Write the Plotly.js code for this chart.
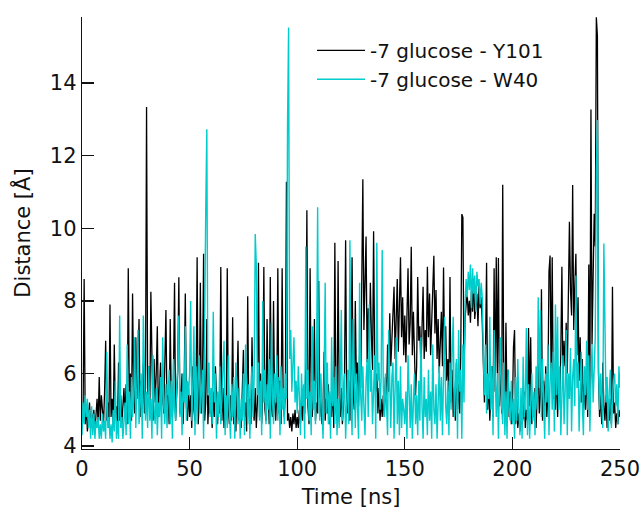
<!DOCTYPE html>
<html>
<head>
<meta charset="utf-8">
<script src="https://cdn.plot.ly/plotly-3.0.1.min.js"></script>
<style>html,body{margin:0;padding:0;background:#fff;}#chart{width:643px;height:515px;}</style>
</head>
<body>
<div id="chart"></div>
<script>
// Sampling step of the trajectories (ns)
const timeStep = 0.5;

// -7 glucose - Y101 distance (Å), one value every 0.5 ns, rows of 10 ns
const distY101 = [
  4.5, 4.9, 8.6, 4.6, 5.1, 4.4, 4.8, 5.2, 4.5, 4.9, 4.6, 5.0, 4.4, 4.8, 5.3, 4.6, 5.9, 4.7, 5.4, 5.0,
  4.6, 5.5, 6.9, 4.7, 5.2, 4.5, 7.9, 4.8, 5.3, 4.6, 6.8, 4.9, 5.1, 4.5, 6.3, 4.7, 5.4, 4.6, 5.0, 5.6,
  4.8, 5.7, 4.6, 8.9, 5.2, 6.0, 4.7, 8.2, 5.5, 4.9, 7.0, 5.3, 6.1, 7.5, 4.8, 5.8, 5.0, 6.3, 4.9, 5.6,
  13.34, 5.4, 6.2, 4.9, 8.25, 5.8, 4.7, 6.4, 5.2, 6.0, 7.3, 4.8, 5.9, 6.3, 5.1, 5.7, 4.9, 6.2, 7.75, 5.0,
  5.4, 4.6, 7.5, 5.2, 4.8, 5.9, 8.5, 4.7, 5.5, 6.1, 8.65, 4.9, 5.3, 6.0, 4.6, 5.8, 8.2, 5.1, 4.7, 5.6,
  4.8, 5.4, 4.5, 6.2, 5.0, 4.7, 5.6, 9.2, 4.6, 5.3, 8.5, 4.9, 5.8, 9.3, 4.7, 5.2, 7.5, 4.6, 5.4, 4.9,
  5.1, 4.5, 5.5, 4.8, 6.2, 5.0, 4.6, 5.3, 4.9, 8.93, 4.7, 5.6, 4.5, 5.2, 4.8, 8.9, 5.0, 4.6, 5.4, 4.7,
  7.55, 4.6, 5.1, 4.4, 5.4, 6.9, 4.7, 5.0, 4.5, 5.5, 6.65, 4.8, 5.2, 4.4, 8.13, 4.9, 5.3, 4.6, 7.0, 5.1,
  4.7, 5.6, 4.5, 5.2, 9.05, 4.8, 6.0, 4.6, 5.4, 8.93, 5.0, 4.7, 7.5, 5.5, 4.6, 8.66, 5.1, 4.8, 8.0, 5.3,
  4.7, 5.4, 8.9, 4.9, 5.8, 4.6, 8.9, 5.2, 4.8, 5.5, 11.28, 4.7, 4.9, 4.5, 4.8, 4.4, 4.9, 4.6, 5.0, 4.5,
  4.8, 4.5, 5.0, 4.6, 5.3, 4.7, 5.6, 4.9, 6.2, 10.5, 5.1, 4.6, 8.9, 5.3, 4.8, 5.5, 7.5, 4.7, 5.2, 4.9,
  8.55, 4.8, 5.4, 4.6, 5.0, 6.6, 4.7, 5.3, 4.9, 5.7, 4.6, 5.2, 4.8, 5.8, 4.5, 9.6, 5.0, 4.7, 9.1, 5.4,
  4.8, 5.6, 4.6, 5.1, 6.0, 9.67, 5.2, 4.9, 5.8, 4.7, 6.2, 9.2, 5.4, 5.0, 8.0, 5.7, 6.3, 5.1, 6.5, 5.6,
  9.9, 11.35, 7.2, 8.4, 9.77, 6.3, 7.8, 6.6, 8.5, 7.0, 6.1, 9.92, 6.4, 5.5, 6.0, 4.9, 5.6, 4.7, 5.3, 4.8,
  5.4, 4.8, 5.9, 5.2, 6.8, 5.5, 7.66, 6.2, 6.9, 7.5, 8.39, 6.4, 7.8, 8.6, 6.6, 7.9, 9.2, 7.0, 8.1, 6.5,
  7.6, 6.3, 8.0, 8.9, 6.8, 7.4, 9.49, 6.5, 7.7, 6.0, 5.4, 6.2, 8.66, 6.9, 7.3, 6.1, 7.8, 8.39, 6.4, 7.2,
  6.6, 8.94, 7.0, 8.2, 6.5, 7.6, 8.7, 9.24, 7.1, 8.3, 6.4, 7.5, 6.0, 6.9, 7.7, 6.2, 8.92, 6.5, 7.3, 5.8,
  6.4, 5.5, 8.66, 5.2, 6.1, 4.8, 5.6, 4.7, 6.3, 5.0, 5.7, 4.9, 6.5, 10.39, 10.3, 6.0, 7.5, 7.9, 8.2, 7.6,
  8.0, 7.4, 8.3, 7.7, 8.6, 7.5, 7.9, 8.2, 7.3, 8.4, 7.8, 8.1, 7.4, 6.0, 5.2, 6.6, 9.05, 5.0, 5.8, 4.7,
  5.3, 6.2, 4.8, 8.9, 5.5, 9.2, 6.0, 9.18, 5.1, 6.4, 4.9, 11.2, 5.6, 4.7, 7.4, 5.2, 6.1, 4.8, 5.5, 4.6,
  5.0, 6.73, 7.2, 4.6, 5.3, 4.5, 4.9, 4.4, 5.2, 4.6, 4.8, 5.5, 4.5, 5.0, 4.7, 7.25, 5.1, 7.0, 4.6, 5.3,
  4.8, 5.6, 4.5, 5.2, 6.3, 4.9, 5.4, 8.32, 4.7, 5.8, 5.1, 6.2, 4.8, 5.5, 8.8, 9.25, 5.9, 9.2, 5.3, 6.0,
  5.0, 6.4, 4.8, 5.7, 5.3, 6.6, 8.94, 5.6, 6.9, 6.2, 7.4, 6.0, 7.8, 10.18, 8.3, 7.6, 11.19, 7.2, 8.4, 9.3,
  6.5, 8.1, 5.8, 7.0, 5.2, 6.4, 4.9, 5.7, 5.0, 6.2, 4.8, 9.0, 5.5, 13.27, 6.8, 8.2, 10.4, 9.5, 15.81, 15.3,
  6.0, 4.8, 5.5, 4.6, 6.3, 5.1, 4.7, 5.4, 4.5, 5.0, 4.7, 5.3, 4.6, 8.39, 4.9, 5.2, 4.5, 4.9, 4.6, 5.0,
  4.8
];

// -7 glucose - W40 distance (Å), one value every 0.5 ns, rows of 10 ns
const distW40 = [
  4.3, 5.2, 4.6, 5.4, 4.8, 5.3, 4.5, 5.0, 4.2, 5.1, 4.3, 4.9, 4.2, 4.7, 4.5, 4.8, 4.2, 4.6, 4.2, 4.9,
  4.4, 4.7, 4.2, 6.6, 4.5, 4.8, 4.2, 4.6, 4.1, 5.0, 4.4, 5.8, 4.2, 4.7, 4.2, 7.6, 4.5, 4.8, 4.2, 4.6,
  5.2, 4.3, 6.8, 4.6, 5.5, 4.2, 5.9, 4.8, 5.3, 7.0, 4.5, 5.7, 7.2, 4.6, 5.1, 6.0, 4.2, 7.6, 5.4, 4.7,
  5.5, 4.5, 6.2, 4.7, 5.3, 4.2, 6.5, 5.0, 4.6, 5.6, 4.3, 5.2, 4.8, 5.9, 4.2, 7.0, 5.1, 4.6, 5.7, 4.5,
  5.3, 6.1, 4.6, 5.8, 4.2, 6.4, 5.0, 4.7, 5.6, 6.2, 7.6, 4.8, 5.5, 4.3, 6.0, 5.2, 7.3, 4.7, 5.8, 5.4,
  6.0, 8.0, 4.7, 5.6, 7.3, 4.3, 6.2, 4.6, 5.8, 6.5, 4.9, 5.5, 6.1, 4.2, 8.5, 10.5, 12.73, 5.4, 6.3, 4.8,
  5.6, 4.6, 7.7, 5.2, 6.0, 4.2, 5.5, 4.8, 6.2, 4.6, 5.3, 5.9, 6.9, 4.3, 5.4, 4.5, 6.5, 5.0, 4.2, 5.7,
  4.8, 5.9, 4.2, 6.3, 5.1, 4.6, 5.6, 4.2, 5.3, 4.7, 6.0, 4.3, 6.8, 5.2, 4.6, 5.7, 4.2, 5.5, 6.2, 4.8,
  5.9, 9.84, 9.0, 5.4, 6.3, 4.7, 5.8, 4.3, 8.0, 5.2, 6.1, 4.6, 5.7, 5.0, 6.4, 4.2, 7.4, 5.3, 4.6, 6.0,
  5.2, 6.5, 4.7, 5.9, 4.3, 6.2, 5.0, 5.6, 4.6, 6.0, 5.3, 12.8, 15.53, 6.4, 7.2, 5.5, 6.1, 7.0, 5.2, 5.8,
  4.9, 6.2, 5.4, 4.3, 6.0, 5.1, 5.7, 4.2, 9.5, 5.3, 6.1, 4.7, 5.5, 4.3, 7.3, 5.0, 5.8, 4.6, 6.3, 10.58,
  5.4, 4.7, 6.0, 5.2, 4.2, 5.8, 8.5, 4.9, 6.3, 4.6, 5.5, 4.2, 7.0, 5.1, 5.9, 4.6, 6.2, 4.3, 5.3, 4.5,
  5.7, 7.75, 4.7, 5.4, 6.0, 4.2, 5.2, 6.1, 4.6, 9.67, 5.3, 4.3, 7.5, 5.6, 4.5, 6.0, 5.0, 4.2, 8.5, 5.4,
  4.7, 6.2, 5.1, 4.3, 5.8, 6.4, 4.8, 7.9, 5.5, 6.1, 4.6, 5.7, 6.5, 4.2, 9.6, 5.8, 6.3, 5.0, 5.9, 9.4,
  5.6, 4.8, 6.0, 5.2, 4.3, 7.2, 5.5, 4.5, 5.9, 6.3, 4.2, 5.4, 7.0, 4.6, 5.8, 4.3, 6.2, 4.5, 5.3, 5.0,
  4.6, 5.5, 4.2, 6.5, 5.0, 4.5, 5.7, 4.2, 5.2, 6.0, 4.6, 5.4, 4.3, 5.8, 4.7, 7.0, 5.1, 4.2, 5.9, 4.8,
  5.3, 4.3, 6.1, 4.7, 5.5, 4.2, 6.8, 5.0, 4.6, 5.7, 4.2, 5.2, 6.2, 4.7, 5.9, 4.3, 6.7, 7.56, 5.1, 4.6,
  5.8, 4.3, 6.3, 5.0, 6.6, 7.56, 4.8, 5.9, 6.4, 4.2, 7.2, 5.5, 6.1, 4.2, 6.8, 5.2, 7.9, 8.6, 8.1, 8.8,
  8.3, 9.0, 7.8, 8.9, 8.2, 8.7, 7.7, 8.8, 8.4, 8.6, 7.9, 8.5, 8.1, 6.5, 5.4, 6.8, 4.9, 6.0, 5.3, 7.56,
  5.0, 6.2, 4.3, 7.2, 5.4, 4.8, 6.0, 4.2, 5.7, 7.0, 5.1, 4.6, 6.3, 4.3, 5.5, 4.2, 6.1, 5.0, 4.7, 5.8,
  4.6, 5.3, 4.2, 5.9, 4.7, 6.4, 5.0, 4.3, 5.6, 4.2, 6.46, 4.8, 5.4, 7.25, 4.3, 5.7, 4.2, 5.2, 6.0, 4.7,
  5.5, 4.3, 6.2, 5.0, 8.1, 5.6, 7.75, 4.8, 6.4, 5.3, 4.2, 6.0, 5.2, 6.8, 4.3, 5.8, 6.3, 5.0, 6.6, 4.4,
  7.9, 5.4, 7.56, 5.0, 6.2, 4.3, 5.8, 6.5, 4.6, 5.5, 7.2, 4.3, 6.0, 5.3, 6.7, 4.4, 5.9, 6.4, 5.1, 8.7,
  5.6, 6.3, 4.4, 5.9, 6.6, 5.1, 4.3, 6.2, 5.4, 6.9, 5.0, 6.5, 4.4, 5.7, 6.8, 5.2, 6.0, 7.0, 11.6, 12.98,
  6.2, 5.0, 6.0, 5.4, 4.5, 9.58, 6.65, 5.2, 5.9, 4.4, 5.5, 6.1, 4.5, 5.3, 5.8, 6.0, 5.1, 5.7, 4.6, 6.2,
  5.6
];

// Axis ticks
const xTicks = [0, 50, 100, 150, 200, 250];
const yTicks = [4, 6, 8, 10, 12, 14];
const seriesNames = ['-7 glucose - Y101', '-7 glucose - W40'];
const seriesColors = ['#000000', '#00CCCC'];

const timeY101 = distY101.map((_, i) => i * timeStep);
const timeW40 = distW40.map((_, i) => i * timeStep);

const FONT = 'DejaVu Sans, Verdana, sans-serif';

const traces = [
  { x: timeY101, y: distY101, type: 'scatter', mode: 'lines', name: seriesNames[0],
    line: { color: seriesColors[0], width: 1.3 } },
  { x: timeW40, y: distW40, type: 'scatter', mode: 'lines', name: seriesNames[1],
    line: { color: seriesColors[1], width: 1.4 } }
];

const axisCommon = {
  showline: true, linecolor: '#111', linewidth: 1.3,
  ticks: 'inside', ticklen: 12, tickwidth: 1.3, tickcolor: '#111',
  showgrid: false, zeroline: false, mirror: false,
  tickfont: { family: FONT, size: 21, color: '#111' }
};

const layout = {
  width: 643, height: 515,
  margin: { l: 82, r: 23, t: 17, b: 66 },
  paper_bgcolor: '#ffffff', plot_bgcolor: '#ffffff',
  font: { family: FONT, size: 20, color: '#111' },
  showlegend: true,
  legend: {
    x: 0.4275, y: 0.968, xanchor: 'left', yanchor: 'top',
    bgcolor: 'rgba(0,0,0,0)', borderwidth: 0,
    itemwidth: 48,
    font: { family: FONT, size: 20, color: '#111' },
    tracegroupgap: 0
  },
  xaxis: Object.assign({}, axisCommon, {
    range: [0, 250], tickmode: 'array', tickvals: xTicks, ticktext: xTicks.map(String),
    title: { text: 'Time [ns]', font: { family: FONT, size: 21, color: '#111' }, standoff: 9 }
  }),
  yaxis: Object.assign({}, axisCommon, {
    range: [3.92, 15.82], tickmode: 'array', tickvals: yTicks, ticktext: yTicks.map(String),
    title: { text: 'Distance [Å]', font: { family: FONT, size: 21, color: '#111' }, standoff: 13 }
  })
};

Plotly.newPlot('chart', traces, layout, { displayModeBar: false, staticPlot: true });
</script>
</body>
</html>
